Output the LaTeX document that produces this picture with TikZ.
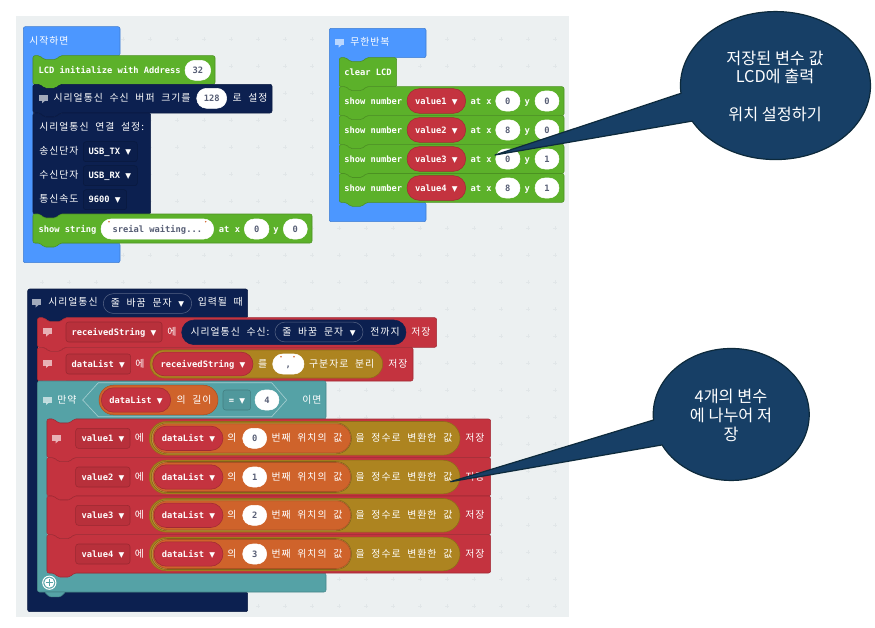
\documentclass[tikz,border=0pt]{standalone}
\usepackage{fontspec}
\setmainfont{Noto Sans CJK KR}
\newfontfamily\korfam[LetterSpace=10,WordSpace=2.1]{Noto Sans CJK KR}
\newfontfamily\calfam{Noto Sans CJK KR}
\newfontfamily\monfam{DejaVu Sans Mono}
\newfontfamily\arrfam{DejaVu Sans}
\newcommand\kor{\korfam\fontsize{7.4}{9}\selectfont}
\newcommand\mon{\monfam\bfseries\fontsize{6.56}{9}\selectfont}
\newcommand\ddn{{\arrfam\fontsize{5.6}{6}\selectfont ▼}}
\definecolor{bggrey}{HTML}{ECF0F1}
\definecolor{gridgrey}{HTML}{E1E6E8}
\definecolor{hatblue}{HTML}{4C97FF}
\definecolor{lcdgreen}{HTML}{5CB12A}
\definecolor{sernavy}{HTML}{0C2050}
\definecolor{varred}{HTML}{C4333F}
\definecolor{logteal}{HTML}{55A2A6}
\definecolor{listorange}{HTML}{CF632B}
\definecolor{textolive}{HTML}{AD8420}
\definecolor{calfill}{HTML}{173F66}
\definecolor{calline}{HTML}{0D2A3C}
\definecolor{numgrey}{HTML}{575E75}
\newcounter{nn}
\tikzset{
  lab/.style={inner sep=0pt,text=white},
  blockline/.style={line width=.4pt,rounded corners=1.5pt},
}
% text: left aligned / centred, at vertical centre y
\newcommand\tl[4][white]{\stepcounter{nn}\node[lab,text=#1,anchor=base west] (t\arabic{nn}) at (#2,#3+3.2) {#4};}
\newcommand\tc[4][white]{\stepcounter{nn}\node[lab,text=#1,anchor=base] (t\arabic{nn}) at ({#2},#3+3.2) {#4};}
% stack block x1 y1 x2 y2 colour
\newcommand\blk[5]{\draw[fill=#5,draw=#5!82!black,blockline]
  (#1,#2) -- ({#1+7},#2) -- ({#1+11},{#2+4}) -- ({#1+23},{#2+4}) -- ({#1+27},#2) -- (#3,#2)
  -- (#3,#4) -- ({#1+27},#4) -- ({#1+23},{#4+4}) -- ({#1+11},{#4+4}) -- ({#1+7},#4) -- (#1,#4) -- cycle;}
% C shaped block: x1 y1 x2 y2(header bottom) xin y3(lower top) x3 y4 colour
\newcommand\cbk[9]{\draw[fill=#9,draw=#9!82!black,blockline]
  (#1,#2) -- (#3,#2) -- (#3,#4) -- ({#5+27},#4) -- ({#5+23},{#4+4}) -- ({#5+11},{#4+4}) -- ({#5+7},#4) -- (#5,#4)
  -- (#5,#6) -- (#7,#6) -- (#7,#8) -- (#1,#8) -- cycle;}
% pill x1 x2 yc halfheight fill line
\newcommand\pil[6]{\draw[fill=#5,draw=#6,line width=.4pt,rounded corners={#4*0.75pt-0.02pt}] (#1,{#3-#4}) rectangle (#2,{#3+#4});}
\newcommand\wpil[4]{\pil{#1}{#2}{#3}{10}{white}{white}\tc[numgrey]{(#1+#2)/2}{#3}{\mon #4}}
% dropdown field x1 x2 yc colour
\newcommand\fld[4]{\draw[fill=#4!94!black,draw=#4!78!black,line width=.4pt,rounded corners=2pt] (#1,{#3-10}) rectangle (#2,{#3+10});}
\newcommand\ico[2]{\fill[white,opacity=.62] ({#1-4.5},{#2-3.5}) rectangle ({#1+4.5},{#2+2.5});
  \fill[white,opacity=.62] ({#1-1},{#2+2.5}) -- ({#1+2},{#2+2.5}) -- ({#1-1},{#2+5}) -- cycle;}
\newcommand\qdot[2]{\fill[listorange] (#1,#2) circle[radius=.8];}
\newcommand\callab[3]{\stepcounter{nn}\node[lab,anchor=center] (t\arabic{nn}) at (#1,#2) {\calfam\fontsize{12.2}{14}\selectfont #3};}
\begin{document}
\begin{tikzpicture}[x=0.75pt,y=-0.75pt]
\useasboundingbox (0,0) rectangle (875,628);
\fill[white] (0,0) rectangle (875,628);
\fill[bggrey] (16,16) rectangle (569,617);
\foreach \gx in {42,69,...,555}{\foreach \gy in {39,66,...,606}{
  \draw[gridgrey,line width=.5pt] ({\gx-1.7},\gy) -- ({\gx+1.7},\gy) (\gx,{\gy-1.7}) -- (\gx,{\gy+1.7});}}

%---------- start block
\cbk{23.3}{26.7}{120}{55.7}{33}{243}{120}{262.7}{hatblue}
\tl{29}{41}{\kor 시작하면}
\blk{33}{55.7}{215}{84.3}{lcdgreen}
\tl{38.3}{70.3}{\mon LCD initialize with Address}
\wpil{185}{210.7}{70.3}{32}
\blk{33}{84.3}{272}{113}{sernavy}
\ico{43}{98.3}
\tl{53.3}{98.3}{\kor 시리얼통신 수신 버퍼 크기를}
\wpil{196.7}{226.7}{98.3}{128}
\tl{232.3}{98.3}{\kor 로 설정}
\blk{33}{113}{150.7}{214}{sernavy}
\tl{39}{127.7}{\kor 시리얼통신 연결 설정:}
\tl{39}{151.7}{\kor 송신단자}
\fld{83.3}{137.3}{151.7}{sernavy}
\tl{88.3}{151.7}{\mon USB\_TX \ddn}
\tl{39}{175.7}{\kor 수신단자}
\fld{83.3}{137.3}{175.7}{sernavy}
\tl{88.3}{175.7}{\mon USB\_RX \ddn}
\tl{39}{199.7}{\kor 통신속도}
\fld{83.3}{126.7}{199.7}{sernavy}
\tl{88.3}{199.7}{\mon 9600 \ddn}
\blk{33}{214}{312}{243}{lcdgreen}
\tl{38.3}{229}{\mon show string}
\pil{101}{213.7}{229}{10}{white}{white}
\qdot{109}{221.7}\qdot{205.7}{221.7}
\tc[numgrey]{157.3}{229}{\mon sreial waiting...}
\tl{218.7}{229}{\mon at x}
\wpil{244.3}{269}{229}{0}
\tc{276}{229}{\mon y}
\wpil{283.3}{307.3}{229}{0}

%---------- forever block
\cbk{329.3}{28.3}{426}{57.7}{339.3}{202.3}{426}{221.7}{hatblue}
\ico{339.5}{42.7}
\tl{350}{42.7}{\kor 무한반복}
\blk{339.3}{57.7}{396.7}{86.7}{lcdgreen}
\tl{344}{72.7}{\mon clear LCD}
\foreach \ya/\yb/\yc/\va/\xv/\yv in {86.7/115.7/101/value1/0/0,115.7/144.7/130/value2/8/0,144.7/173.5/159/value3/0/1,173.5/202.3/188/value4/8/1}{
  \blk{339.3}{\ya}{564}{\yb}{lcdgreen}
  \tl{344}{\yc}{\mon show number}
  \pil{407}{465.7}{\yc}{12.3}{varred}{varred!82!black}
  \tc{436.3}{\yc}{\mon \va\ \ddn}
  \tl{470.3}{\yc}{\mon at x}
  \wpil{495.7}{520}{\yc}{\xv}
  \tc{527.3}{\yc}{\mon y}
  \wpil{535}{559}{\yc}{\yv}
}

%---------- serial event block
\cbk{27.7}{289}{247.7}{317.7}{37.5}{592}{247.7}{611.7}{sernavy}
\ico{36.5}{302.5}
\tl{48}{302.5}{\kor 시리얼통신}
\draw[sernavy!70!white,line width=.4pt,rounded corners=7.4pt] (103.3,293.7) rectangle (191.7,313.4);
\tc{147.5}{303}{\kor 줄 바꿈 문자 \ddn}
\tl{197.5}{302.5}{\kor 입력될 때}

%---------- receivedString row
\blk{37.5}{317.7}{436.6}{347.3}{varred}
\ico{47}{331.7}
\fld{66}{162}{332}{varred}
\tc{114}{332}{\mon receivedString \ddn}
\tc{172}{332}{\kor 에}
\pil{181.7}{406}{332.3}{12.3}{sernavy}{sernavy}
\tc{230}{332}{\kor 시리얼통신 수신:}
\pil{275}{363}{332}{9.9}{sernavy}{sernavy!70!white}
\tc{319}{332}{\kor 줄 바꿈 문자 \ddn}
\tc{385}{332}{\kor 전까지}
\tc{421}{332}{\kor 저장}

%---------- dataList row
\blk{37.5}{347.3}{413}{381}{varred}
\ico{47}{363}
\fld{66}{130.7}{364}{varred}
\tc{98.3}{364}{\mon dataList \ddn}
\tc{140}{364}{\kor 에}
\pil{150}{382.7}{364}{14}{textolive}{textolive!82!black}
\pil{152.7}{253}{364}{11.9}{varred}{varred!82!black}
\tc{203}{364}{\mon receivedString \ddn}
\tc{262.7}{364}{\kor 를}
\pil{272.7}{304}{364}{10}{white}{white}
\qdot{281}{356.7}\qdot{294}{356.7}
\tc[numgrey]{288.3}{364}{\mon ,}
\tc{341.7}{364}{\kor 구분자로 분리}
\tc{398}{364}{\kor 저장}

%---------- if block
\cbk{37.5}{381}{326}{419}{47}{573}{326}{592}{logteal}
\draw[fill=logteal,draw=logteal!82!black,line width=.4pt,rounded corners=1pt]
  (44.5,592) -- (49.5,596.8) -- (60.5,596.8) -- (65.5,592) -- cycle;
\ico{47}{400}
\tc{67}{400}{\kor 만약}
\draw[fill=logteal,draw=logteal!55!white,line width=.5pt] (82.7,400) -- (98.3,382.7) -- (271.7,382.7) -- (286.7,400) -- (271.7,416.7) -- (98.3,416.7) -- cycle;
\pil{99}{218}{400}{14.8}{listorange}{listorange!82!black}
\pil{101.3}{170.7}{400}{12.2}{varred}{varred!82!black}
\tc{136}{400}{\mon dataList \ddn}
\tc{194}{400}{\kor 의 길이}
\fld{223}{250.7}{400}{logteal}
\tc{237}{400}{\mon = \ddn}
\wpil{255}{279}{400}{4}
\tc{312}{400}{\kor 이면}

%---------- value rows
\foreach \ya/\yb/\yc/\va/\nv in {419/457.6/438.3/value1/0,457.6/496/477/value2/1,496/534.6/515.3/value3/2,534.6/573/554/value4/3}{
  \blk{47}{\ya}{490.6}{\yb}{varred}
  \fld{75.7}{130}{\yc}{varred}
  \tc{103}{\yc}{\mon \va\ \ddn}
  \tc{139.3}{\yc}{\kor 에}
  \pil{149.3}{460}{\yc}{16.8}{textolive}{textolive!82!black}
  \pil{151.3}{351.5}{\yc}{15.5}{textolive!85!white}{textolive!75!black}
  \pil{153}{350.7}{\yc}{14.5}{listorange}{listorange!82!black}
  \pil{154}{223}{\yc}{12.2}{varred}{varred!82!black}
  \tc{188.5}{\yc}{\mon dataList \ddn}
  \tc{232}{\yc}{\kor 의}
  \wpil{242.7}{266.7}{\yc}{\nv}
  \tc{307}{\yc}{\kor 번째 위치의 값}
  \tc{404}{\yc}{\kor 을 정수로 변환한 값}
  \tc{475}{\yc}{\kor 저장}
}
\ico{56.7}{438.3}

%---------- plus button
\draw[white,line width=.75pt] (49.3,582.7) circle[radius=6.6];
\fill[white] (49.3,582.7) circle[radius=5];
\draw[logteal,line width=1.1pt] (45.8,582.7) -- (52.8,582.7) (49.3,579.2) -- (49.3,586.2);

%---------- callouts
\coordinate (tipA) at (495,155);
\coordinate (tipB) at (450.7,481.7);
\draw[fill=calfill,draw=calline,line width=.9pt,line join=round] (tipA) -- (681,93.3)
  arc[start angle=186,end angle=-151.3,x radius=71.25pt,y radius=55.5pt] -- cycle;
\draw[fill=calfill,draw=calline,line width=.9pt,line join=round] (tipB) -- (653.5,420)
  arc[start angle=184.8,end angle=-152.5,x radius=58.5pt,y radius=49.5pt] -- cycle;
\callab{775}{58}{저장된 변수 값}
\callab{775}{76.7}{LCD에 출력}
\callab{775}{114}{위치 설정하기}
\callab{731}{396.7}{4개의 변수}
\callab{731}{415}{에 나누어 저}
\callab{731}{434}{장}
\end{tikzpicture}
\end{document}
